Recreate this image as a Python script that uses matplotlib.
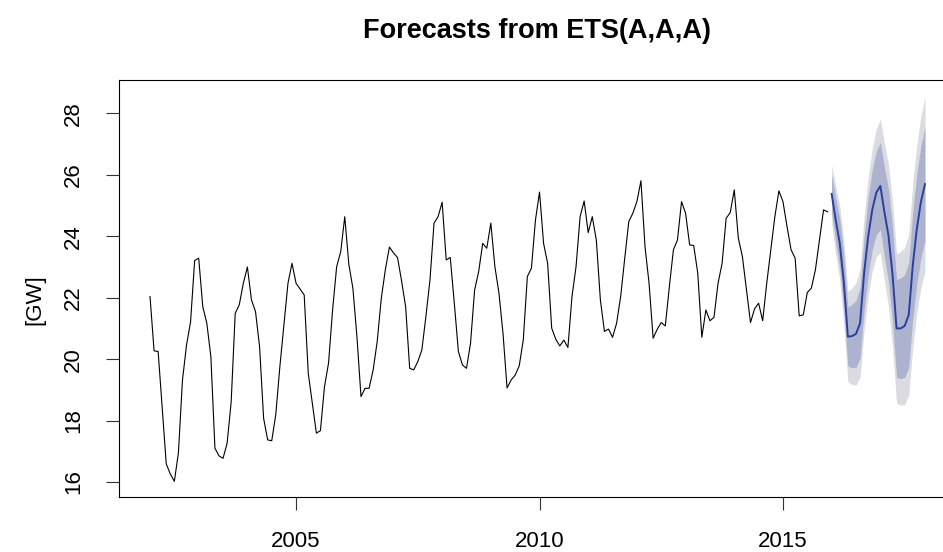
import numpy as np
import matplotlib
matplotlib.use("Agg")
import matplotlib.pyplot as plt

plt.rcParams['font.family'] = ['Liberation Sans', 'DejaVu Sans']

# Monthly demand, Jan 2002 - Dec 2015 [GW]
start_year = 2002
demand = [
    22.04, 20.27, 20.25, 18.40, 16.59, 16.26, 16.02, 16.95, 19.32, 20.46, 21.22, 23.21,
    23.29, 21.71, 21.17, 20.08, 17.10, 16.85, 16.77, 17.26, 18.60, 21.49, 21.77, 22.47,
    23.00, 21.93, 21.55, 20.41, 18.07, 17.37, 17.34, 18.20, 19.75, 21.10, 22.47, 23.12,
    22.47, 22.28, 22.09, 19.54, 18.56, 17.59, 17.67, 19.10, 19.87, 21.60, 23.01, 23.50,
    24.64, 23.09, 22.31, 20.73, 18.78, 19.05, 19.05, 19.65, 20.58, 21.98, 22.91, 23.65,
    23.46, 23.31, 22.55, 21.71, 19.70, 19.65, 19.92, 20.30, 21.39, 22.58, 24.43, 24.64,
    25.11, 23.23, 23.31, 21.82, 20.25, 19.81, 19.70, 20.52, 22.25, 22.85, 23.77, 23.61,
    24.43, 23.01, 22.15, 20.84, 19.06, 19.32, 19.48, 19.78, 20.63, 22.69, 22.96, 24.53,
    25.44, 23.77, 23.12, 21.01, 20.65, 20.43, 20.62, 20.38, 22.04, 23.01, 24.64, 25.15,
    24.12, 24.64, 23.88, 21.93, 20.90, 20.98, 20.71, 21.17, 22.04, 23.28, 24.48, 24.75,
    25.13, 25.81, 23.66, 22.47, 20.68, 20.97, 21.19, 21.08, 22.36, 23.56, 23.88, 25.13,
    24.75, 23.72, 23.70, 22.80, 20.71, 21.60, 21.25, 21.36, 22.47, 23.12, 24.59, 24.77,
    25.51, 23.94, 23.34, 22.25, 21.19, 21.64, 21.82, 21.25, 22.47, 23.56, 24.64, 25.48,
    25.13, 24.32, 23.56, 23.29, 21.41, 21.44, 22.17, 22.31, 22.91, 23.88, 24.86, 24.80,
]

# ETS(A,A,A) point forecasts and prediction intervals, Jan 2016 - Dec 2017
fc_start = 2016
fc_mean = [
    25.38, 24.53, 23.77, 22.50, 20.73, 20.75, 20.82, 21.17, 22.80, 23.99, 24.86, 25.42,
    25.64, 24.79, 24.03, 22.76, 21.00, 21.00, 21.08, 21.44, 23.06, 24.25, 25.12, 25.70,
]
lo80 = [
    24.76, 23.81, 22.97, 21.62, 19.77, 19.72, 19.73, 20.02, 21.59, 22.73, 23.55, 24.06,
    24.22, 23.33, 22.52, 21.21, 19.41, 19.36, 19.41, 19.73, 21.31, 22.46, 23.30, 23.84,
]
hi80 = [
    26.00, 25.25, 24.57, 23.38, 21.69, 21.78, 21.91, 22.32, 24.01, 25.25, 26.17, 26.78,
    27.06, 26.25, 25.54, 24.31, 22.59, 22.64, 22.75, 23.15, 24.81, 26.04, 26.94, 27.56,
]
lo95 = [
    24.43, 23.43, 22.55, 21.15, 19.26, 19.18, 19.15, 19.41, 20.95, 22.06, 22.86, 23.34,
    23.47, 22.55, 21.72, 20.39, 18.57, 18.50, 18.52, 18.82, 20.38, 21.52, 22.33, 22.85,
]
hi95 = [
    26.33, 25.63, 24.99, 23.85, 22.20, 22.32, 22.49, 22.93, 24.65, 25.92, 26.86, 27.50,
    27.81, 27.03, 26.34, 25.13, 23.43, 23.50, 23.64, 24.06, 25.74, 26.98, 27.91, 28.55,
]

x_ticks = [2005, 2010, 2015]
y_ticks = [16, 18, 20, 22, 24, 26, 28]

t_hist = start_year + np.arange(len(demand)) / 12.0
t_fc = fc_start + np.arange(len(fc_mean)) / 12.0

W, H = 943, 552
fig = plt.figure(figsize=(W / 100, H / 100), dpi=100)
left, right, top, bottom = 119, 956, 80, 497
ax = fig.add_axes([left / W, 1 - bottom / H, (right - left) / W, (bottom - top) / H])

ax.fill_between(t_fc, lo95, hi95, color="#DBDBE2", linewidth=0)
ax.fill_between(t_fc, lo80, hi80, color="#ADB3CF", linewidth=0)
ax.plot(t_hist, demand, color="black", linewidth=0.8)
ax.plot(t_fc, fc_mean, color="#2A3FA0", linewidth=1.4)

ax.set_xlim(2001.363, 2018.554)
ax.set_ylim(15.51, 29.09)

ax.set_xticks(x_ticks)
ax.set_xticklabels([str(v) for v in x_ticks])
ax.set_yticks(y_ticks)
ax.set_yticklabels([str(v) for v in y_ticks], rotation=90, va="center")

ax.tick_params(axis="both", direction="out", length=9.5, width=0.8,
               color="#333333", labelsize=16)
ax.tick_params(axis="x", pad=15)
ax.tick_params(axis="y", pad=15.5)

for side in ("left", "bottom", "top", "right"):
    ax.spines[side].set_linewidth(0.8)

fig.text(35 / W, 1 - 300 / H, "[GW]", rotation=90, ha="center", va="center",
         fontsize=16)
fig.text(537 / W, 1 - 31 / H, "Forecasts from ETS(A,A,A)", ha="center",
         va="center", fontsize=19.5, fontweight="bold")

fig.savefig("out.png", dpi=100)
